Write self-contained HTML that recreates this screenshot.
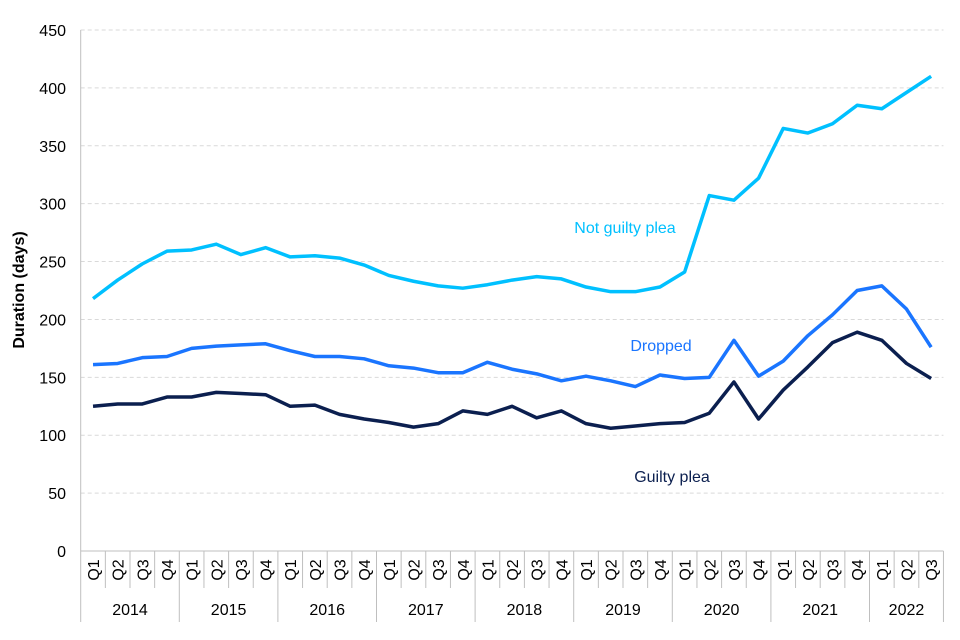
<!DOCTYPE html>
<html><head><meta charset="utf-8"><style>
body{margin:0;background:#fff;}
svg{display:block;font-family:"Liberation Sans",Arial,sans-serif;}
</style></head><body>
<svg id="chart" width="960" height="640"></svg>
<script>
const years=['2014','2015','2016','2017','2018','2019','2020','2021','2022'];
const quarters=['Q1','Q2','Q3','Q4'];
const yTicks=[0,50,100,150,200,250,300,350,400,450];
const notGuilty=[218,234,248,259,260,265,256,262,254,255,253,247,238,233,229,227,230,234,237,235,228,224,224,228,241,307,303,322,365,361,369,385,382,396,410];
const dropped=[161,162,167,168,175,177,178,179,173,168,168,166,160,158,154,154,163,157,153,147,151,147,142,152,149,150,182,151,164,186,204,225,229,209,176];
const guilty=[125,127,127,133,133,137,136,135,125,126,118,114,111,107,110,121,118,125,115,121,110,106,108,110,111,119,146,114,139,159,180,189,182,162,149];
const N=notGuilty.length;
const x0=80.7,bw=24.65,y0=551,yTop=30;
const X=i=>x0+bw*(i+0.5);
const Y=v=>y0-(v/450)*(y0-yTop);
const svg=document.getElementById('chart');
const NS='http://www.w3.org/2000/svg';
function mk(t,a,txt){const e=document.createElementNS(NS,t);for(const k in a)e.setAttribute(k,a[k]);if(txt!=null)e.textContent=txt;svg.appendChild(e);return e;}
yTicks.forEach(v=>{
  if(v>0){const g=mk('line',{x1:x0,x2:x0+bw*N,y1:Y(v),y2:Y(v),stroke:'#d9d9d9','stroke-dasharray':'4,3'});
  
  }
  const t=mk('text',{x:66,y:Y(v)+6,'text-anchor':'end','font-size':16,fill:'#000'},v);
  
  
});
const ax=mk('line',{x1:x0,x2:x0,y1:yTop,y2:y0,stroke:'#bfbfbf'});


const xa=mk('line',{x1:x0,x2:x0+bw*N,y1:y0,y2:y0,stroke:'#bfbfbf'});


for(let i=0;i<=N;i++){
  const isYear=i%4===0||i===N;
  const l=mk('line',{x1:x0+bw*i,x2:x0+bw*i,y1:y0,y2:isYear?622:588,stroke:'#bfbfbf'});
  
  
}
for(let i=0;i<N;i++){
  const cx=X(i)+6,cy=570;
  const t=mk('text',{x:cx,y:cy,'text-anchor':'middle','font-size':16,transform:`rotate(-90 ${cx} ${cy})`},quarters[i%4]);
  
  
}
years.forEach((yr,k)=>{
  const s=k*4,e=Math.min(N,s+4);
  const t=mk('text',{x:x0+bw*(s+e)/2,y:615,'text-anchor':'middle','font-size':16},yr);
  
  
});
const yt=mk('text',{x:24,y:290,'text-anchor':'middle','font-size':16,'font-weight':'bold',transform:'rotate(-90 24 290)'},'Duration (days)');


function line(data,color,name){
  const p=mk('polyline',{points:data.map((v,i)=>X(i)+','+Y(v)).join(' '),fill:'none',stroke:color,'stroke-width':3.5,'stroke-linejoin':'round'});
  
  
}
line(notGuilty,'#00c0ff','not-guilty-plea-line');
line(dropped,'#1a75ff','dropped-line');
line(guilty,'#0b1f4f','guilty-plea-line');
const l1=mk('text',{x:625,y:233,'text-anchor':'middle','font-size':16,fill:'#00c0ff'},'Not guilty plea');


const l2=mk('text',{x:661,y:351,'text-anchor':'middle','font-size':16,fill:'#1a75ff'},'Dropped');


const l3=mk('text',{x:672,y:482,'text-anchor':'middle','font-size':16,fill:'#0b1f4f'},'Guilty plea');


</script>
</body></html>
